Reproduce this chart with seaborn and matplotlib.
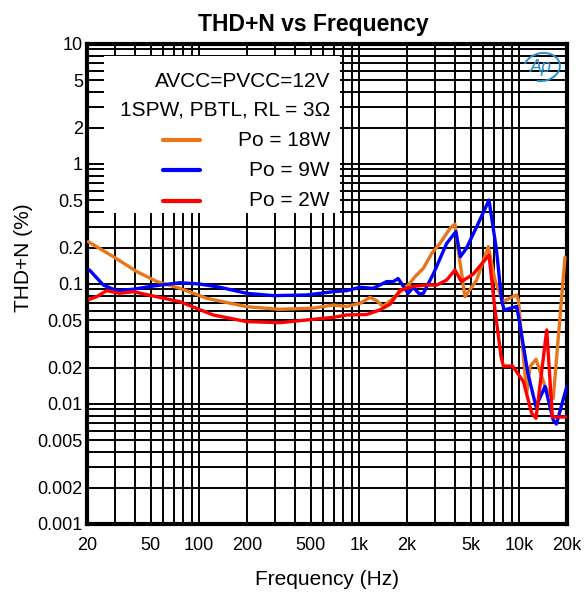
import numpy as np
import pandas as pd
import matplotlib
matplotlib.use("Agg")
import matplotlib.pyplot as plt
import matplotlib.ticker as mticker
from matplotlib.patches import Rectangle, Arc
from matplotlib.lines import Line2D
import seaborn as sns

# ---- data ----
freq_18w = [20.4, 29.2, 40.9, 54.5, 76.2, 112, 199, 321, 519, 692, 839, 1018, 1175, 1292, 1420,
            1642, 2036, 2244, 2530, 2853, 3215, 3716, 3990, 4180, 4608, 5453, 6443, 7096, 7930,
            9690, 9930, 11200, 11750, 12800, 14580, 16400, 19430]
thd_18w = [0.225, 0.169, 0.127, 0.105, 0.092, 0.076, 0.0647, 0.0615, 0.063, 0.0668, 0.065, 0.069,
           0.0774, 0.0725, 0.065, 0.0763, 0.098, 0.115, 0.135, 0.18, 0.218, 0.291, 0.316, 0.192,
           0.0784, 0.108, 0.205, 0.108, 0.0713, 0.081, 0.0735, 0.0123, 0.0205, 0.0236, 0.014,
           0.0111, 0.167]

freq_9w = [20.7, 25.3, 30.7, 39, 51.9, 76, 101, 135, 199, 292, 471, 692, 839, 1018, 1225, 1350,
           1490, 1642, 1760, 2036, 2185, 2390, 2530, 2935, 3540, 4040, 4310, 4700, 5453, 6510,
           7250, 7800, 8090, 9690, 10050, 11390, 12800, 14580, 16400, 17170, 19950]
thd_9w = [0.131, 0.098, 0.088, 0.0905, 0.0962, 0.1025, 0.1, 0.094, 0.0836, 0.08, 0.081, 0.0863,
          0.088, 0.094, 0.092, 0.098, 0.1047, 0.1047, 0.111, 0.0836, 0.094, 0.0825, 0.0836, 0.123,
          0.218, 0.273, 0.169, 0.198, 0.3, 0.5, 0.192, 0.0736, 0.0607, 0.065, 0.05, 0.018, 0.0095,
          0.014, 0.00736, 0.0068, 0.014]

freq_2w = [20.7, 23, 26.5, 32, 39, 51.9, 76, 123, 199, 321, 428, 692, 839, 1120, 1350, 1570, 1815,
           2185, 2650, 3070, 3540, 3990, 4370, 5160, 6510, 7096, 7740, 8010, 9150, 10700, 12020,
           12800, 14940, 16200, 17300, 19950]
thd_2w = [0.0745, 0.0784, 0.088, 0.0836, 0.0863, 0.0794, 0.0713, 0.0552, 0.0486, 0.0476, 0.0495,
          0.0527, 0.0552, 0.0557, 0.0607, 0.068, 0.089, 0.0955, 0.098, 0.098, 0.108, 0.131, 0.1047,
          0.12, 0.174, 0.0607, 0.0248, 0.0207, 0.0207, 0.0153, 0.0084, 0.0076, 0.0414, 0.0078,
          0.0078, 0.0078]

series_labels = ["Po = 18W", "Po = 9W", "Po = 2W"]
series_colors = ["#E8761A", "#0000FF", "#FF0000"]

x_ticks = [20, 50, 100, 200, 500, 1000, 2000, 5000, 10000, 20000]
x_ticklabels = ["20", "50", "100", "200", "500", "1k", "2k", "5k", "10k", "20k"]
y_ticks = [10, 5, 2, 1, 0.5, 0.2, 0.1, 0.05, 0.02, 0.01, 0.005, 0.002, 0.001]
y_ticklabels = ["10", "5", "2", "1", "0.5", "0.2", "0.1", "0.05", "0.02", "0.01", "0.005", "0.002", "0.001"]

header_lines = ["AVCC=PVCC=12V", "1SPW, PBTL, RL = 3Ω"]

# ---- build table ----
frames = []
for lab, f, v in zip(series_labels, [freq_18w, freq_9w, freq_2w], [thd_18w, thd_9w, thd_2w]):
    frames.append(pd.DataFrame({"freq": f, "thd": v, "series": lab}))
df = pd.concat(frames, ignore_index=True)

sns.set_theme(style="white")
FONT = ["Liberation Sans", "DejaVu Sans"]
plt.rcParams["font.family"] = FONT

fig = plt.figure(figsize=(5.87, 5.97), dpi=100)
ax = fig.add_axes([87/587, 1-524/597, 480/587, 480/597])

sns.lineplot(data=df, x="freq", y="thd", hue="series", hue_order=series_labels,
             palette=dict(zip(series_labels, series_colors)), sort=False, estimator=None,
             units="series", linewidth=2.4, legend=False, ax=ax, zorder=5)

ax.set_xscale("log")
ax.set_yscale("log")
ax.set_xlim(20, 20000)
ax.set_ylim(0.001, 10)

ax.xaxis.set_major_locator(mticker.FixedLocator(x_ticks))
ax.xaxis.set_major_formatter(mticker.FixedFormatter(x_ticklabels))
ax.yaxis.set_major_locator(mticker.FixedLocator(y_ticks))
ax.yaxis.set_major_formatter(mticker.FixedFormatter(y_ticklabels))
ax.xaxis.set_minor_locator(mticker.LogLocator(base=10, subs=np.arange(1, 10), numticks=50))
ax.yaxis.set_minor_locator(mticker.LogLocator(base=10, subs=np.arange(1, 10), numticks=50))
ax.xaxis.set_minor_formatter(mticker.NullFormatter())
ax.yaxis.set_minor_formatter(mticker.NullFormatter())

ax.grid(which="both", color="black", linewidth=1.4)
ax.set_axisbelow(True)
ax.tick_params(which="both", length=0, labelsize=13, colors="black")
ax.tick_params(axis="y", pad=3)
ax.tick_params(axis="x", pad=9)

for s in ax.spines.values():
    s.set_visible(True)
    s.set_color("black")
    s.set_linewidth(3)

ax.set_xlabel("Frequency (Hz)", fontsize=15, color="black", labelpad=12)
ax.set_ylabel("THD+N (%)", fontsize=15, color="black")
ax.yaxis.set_label_coords(-0.113, 0.555)

fig.text(313/587, 1-31/597, "THD+N vs Frequency", ha="center", va="baseline",
         fontsize=16.5, fontweight="bold", color="black")

# ---- legend box ----
ax.add_patch(Rectangle((0.0354, 0.648), 0.492, 0.327, transform=ax.transAxes,
                       facecolor="white", edgecolor="none", zorder=6))
rows_y = [0.921, 0.8625, 0.80, 0.737, 0.673]
for txt, yy in zip(header_lines + series_labels, rows_y):
    ax.text(0.506, yy, txt, transform=ax.transAxes, ha="right", va="center",
            fontsize=15, color="black", zorder=7)
for col, yy in zip(series_colors, rows_y[2:]):
    ax.add_line(Line2D([0.158, 0.235], [yy, yy], transform=ax.transAxes, color=col,
                       linewidth=3, solid_capstyle="round", zorder=7))

# ---- logo ----
ax.add_patch(Arc((0.948, 0.952), 0.075, 0.058, angle=10, theta1=-120, theta2=160,
                 transform=ax.transAxes, color="#2A8FD0", linewidth=1.4, zorder=7))
ax.text(0.946, 0.950, "Ap", transform=ax.transAxes, ha="center", va="center",
        fontsize=13, fontstyle="italic", color="#2A8FD0", zorder=7)

fig.savefig("out.png", dpi=100, facecolor="white")
